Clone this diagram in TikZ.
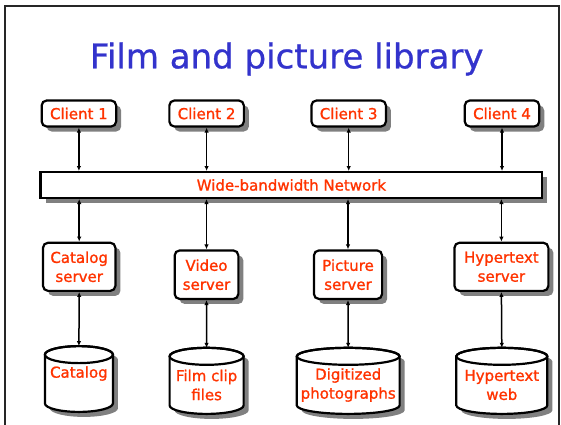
\documentclass[tikz,border=0pt]{standalone}
\usepackage{fontspec}
\setmainfont{DejaVu Sans}[BoldFont={DejaVu Sans}, BoldFeatures={FakeBold=1.2}]
\newfontfamily\titlefont{DejaVu Sans}[FakeBold=0.8]
\usetikzlibrary{shadows,arrows.meta}
\definecolor{titleblue}{RGB}{51,51,204}
\definecolor{labelred}{RGB}{255,51,0}
\definecolor{shadowgray}{RGB}{128,128,128}
\begin{document}
\begin{tikzpicture}[x=1pt,y=-1pt,
  box/.style={draw=black, line width=2.2pt, fill=white, rounded corners=5pt, inner sep=0pt,
    align=center, text=labelred, font=\fontsize{15}{19}\selectfont\bfseries,
    drop shadow={shadow xshift=5pt, shadow yshift=-5pt, fill=shadowgray, opacity=1}},
  netbox/.style={box, sharp corners},
  dblabel/.style={text=labelred, align=center, font=\fontsize{15}{19}\selectfont\bfseries, inner sep=0pt},
  cylline/.style={draw=black, line width=2.2pt, fill=white},
  link/.style={line width=1.5pt, {Latex[length=5pt,width=4.5pt]}-{Latex[length=5pt,width=4.5pt]}}
]
\useasboundingbox (0,0) rectangle (561,424);
% frame
\draw[black!85, line width=2pt] (5,440) -- (5,5.5) -- (558.5,5.5) -- (558.5,440);
% title
\node[anchor=base, font=\titlefont\fontsize{34}{40}\selectfont, text=titleblue, inner sep=0pt] (title) at (286.7,68.3) {Film and picture library};
% clients
\node[box, minimum width=74.5pt, minimum height=26pt] (c1) at (78.9,113.5) {Client 1};
\node[box, minimum width=74.5pt, minimum height=26pt] (c2) at (206.6,113.5) {Client 2};
\node[box, minimum width=74.5pt, minimum height=26pt] (c3) at (348.7,113.5) {Client 3};
\node[box, minimum width=74.5pt, minimum height=26pt] (c4) at (502,113.5) {Client 4};
% network
\node[netbox, minimum width=501.8pt, minimum height=25.8pt] (net) at (291.4,185) {Wide-bandwidth Network};
% servers
\node[box, minimum width=72.4pt, minimum height=48.1pt] (s1) at (79.2,266.8) {Catalog\\server};
\node[box, minimum width=63.7pt, minimum height=48.5pt] (s2) at (206.5,274.7) {Video\\server};
\node[box, minimum width=68.2pt, minimum height=48.5pt] (s3) at (348,274.7) {Picture\\server};
\node[box, minimum width=93.9pt, minimum height=48.1pt] (s4) at (501.4,266.8) {Hypertext\\server};
% cylinders
\foreach \cx/\rx/\ct/\cb in {78.9/34/346.1/411.9, 206.6/37/347.8/413.9, 348.2/51.4/347.8/413.9, 501.8/45.5/347.8/413.9}{
  \fill[shadowgray, shift={(5,5)}] (\cx-\rx,\ct+8.5) -- (\cx-\rx,\cb-8.5)
    arc[start angle=180,end angle=360,x radius=\rx pt,y radius=8.5pt] -- (\cx+\rx,\ct+8.5)
    arc[start angle=0,end angle=180,x radius=\rx pt,y radius=8.5pt] -- cycle;
  \draw[cylline] (\cx-\rx,\ct+8.5) -- (\cx-\rx,\cb-8.5)
    arc[start angle=180,end angle=360,x radius=\rx pt,y radius=8.5pt] -- (\cx+\rx,\ct+8.5)
    arc[start angle=0,end angle=180,x radius=\rx pt,y radius=8.5pt] -- cycle;
  \draw[line width=2.2pt] (\cx,\ct+8.5) ellipse[x radius=\rx pt,y radius=8.5pt];
}
\coordinate (d1top) at (78.9,346.1);
\coordinate (d2top) at (206.6,347.8);
\coordinate (d3top) at (348.2,347.8);
\coordinate (d4top) at (501.8,347.8);
\node[dblabel] (d1) at (78.9,373.5) {Catalog};
\node[dblabel] (d2) at (206.6,385) {Film clip\\files};
\node[dblabel] (d3) at (348.2,385) {Digitized\\photographs};
\node[dblabel] (d4) at (501.8,385) {Hypertext\\web};
% connectors
\foreach \i in {1,2,3,4}{
  \draw[link] (c\i.south) -- (c\i.south |- net.north);
  \draw[link] (net.south -| s\i.north) -- (s\i.north);
  \draw[link] (s\i.south) -- (d\i top);
}
\end{tikzpicture}
\end{document}
